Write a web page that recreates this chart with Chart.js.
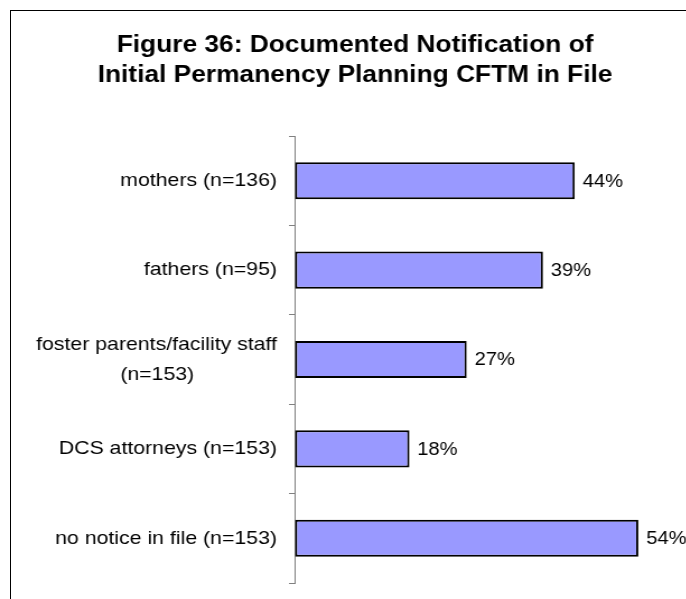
<!DOCTYPE html>
<html>
<head>
<meta charset="utf-8">
<script src="https://cdn.jsdelivr.net/npm/chart.js@4"></script>
<style>
  html, body { margin: 0; padding: 0; background: #fff; overflow: hidden; width: 686px; height: 599px; }
  #frame { position: absolute; left: 10px; top: 10px; width: 1000px; height: 1000px;
           border-left: 1px solid #000; border-top: 1px solid #000; }
  #wrap { position: absolute; left: 0; top: 0; width: 613px; height: 599px;
          transform: scaleX(1.12); transform-origin: 0 0; }
  #c { display: block; }
</style>
</head>
<body>
<div id="frame"></div>
<div id="wrap"><canvas id="c" width="613" height="599"></canvas></div>
<script>
const titleLines = ['Figure 36: Documented Notification of', 'Initial Permanency Planning CFTM in File'];
const categories = [
  'mothers (n=136)',
  'fathers (n=95)',
  ['foster parents/facility staff', '(n=153)              '],
  'DCS attorneys (n=153)',
  'no notice in file (n=153)'
];
const percentValues = [44, 39, 27, 18, 54];
const FONT = "'Liberation Sans', Arial, Helvetica, sans-serif";

const valueLabels = {
  id: 'valueLabels',
  afterDatasetsDraw(chart) {
    const ctx = chart.ctx;
    const meta = chart.getDatasetMeta(0);
    ctx.save();
    ctx.font = '18px ' + FONT;
    ctx.fillStyle = '#000';
    ctx.textAlign = 'left';
    ctx.textBaseline = 'middle';
    meta.data.forEach((bar, i) => {
      ctx.fillText(percentValues[i] + '%', bar.x + 7, bar.y + 1);
    });
    ctx.restore();
  }
};

new Chart(document.getElementById('c'), {
  type: 'bar',
  data: {
    labels: categories,
    datasets: [{
      data: percentValues,
      backgroundColor: '#9999FF',
      borderColor: '#000000',
      borderWidth: 2,
      borderSkipped: false,
      categoryPercentage: 1,
      barPercentage: 0.415
    }]
  },
  options: {
    indexAxis: 'y',
    responsive: false,
    animation: false,
    devicePixelRatio: 1,
    layout: { padding: { left: 30, right: 9, top: 0, bottom: 16 } },
    plugins: {
      legend: { display: false },
      tooltip: { enabled: false },
      title: {
        display: true,
        text: titleLines,
        color: '#000',
        font: { family: FONT, size: 23.5, weight: 'bold', lineHeight: 1.2766 },
        padding: { top: 31, bottom: 45 }
      }
    },
    scales: {
      x: { display: false, min: 0, max: 60 },
      y: {
        afterFit(scale) {
          scale.width = 233.4;
          scale.paddingTop = 0;
          scale.paddingBottom = 0;
        },
        grid: { drawOnChartArea: false, drawTicks: true, tickLength: 5.4, color: '#808080', offset: true },
        border: { display: true, color: '#808080', width: 1 },
        ticks: { color: '#000', padding: 10.7, font: { family: FONT, size: 19, lineHeight: 1.6 } }
      }
    }
  },
  plugins: [valueLabels]
});
</script>
</body>
</html>
